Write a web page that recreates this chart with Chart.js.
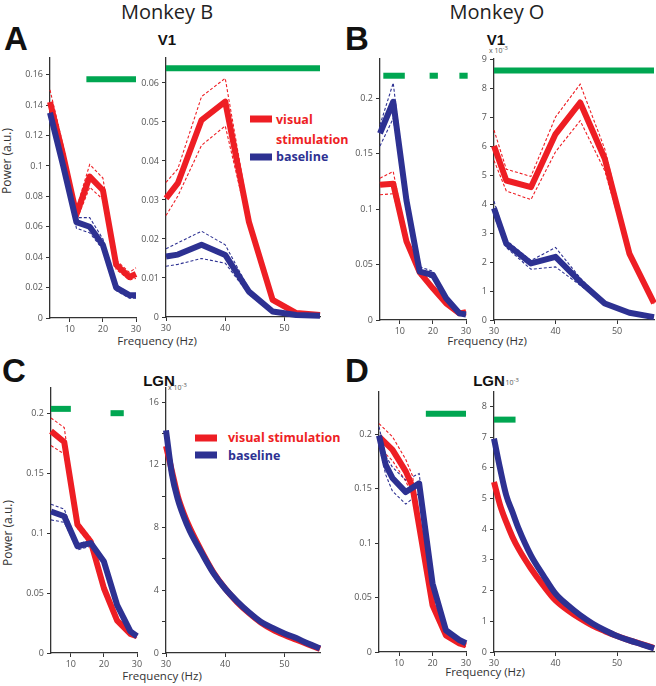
<!DOCTYPE html>
<html>
<head>
<meta charset="utf-8">
<script src="https://cdn.jsdelivr.net/npm/chart.js@4.4.1/dist/chart.umd.min.js"></script>
<style>
body { margin: 0; background: #fff; }
#fig { position: relative; width: 656px; height: 686px; overflow: hidden; font-family: 'Open Sans', sans-serif; color: #222; }
#fig canvas { position: absolute; }
.lb { position: absolute; white-space: nowrap; transform: translate(-50%, -50%); line-height: 1; }
.big { font-family: 'Liberation Sans', Arial, sans-serif; font-weight: bold; font-size: 33px; color: #111; }
.area { font-family: 'Liberation Sans', Arial, sans-serif; font-weight: bold; font-size: 15px; color: #111; }
.ax { font-size: 11.5px; color: #333; }
.lg { position: absolute; white-space: nowrap; transform: translateY(-50%); line-height: 1; font-weight: bold; font-size: 12.5px; }
.sw { position: absolute; width: 22px; height: 7px; transform: translateY(-50%); }
.exp { position: absolute; font-size: 7px; color: #555; white-space: nowrap; line-height: 1; }
</style>
</head>
<body>
<div id="fig">
  <div class="lb" style="left:167px;top:12px;font-size:20px;">Monkey B</div>
  <div class="lb" style="left:497px;top:12px;font-size:20px;">Monkey O</div>
  <div class="lb big" style="left:16px;top:38px;">A</div>
  <div class="lb big" style="left:357px;top:38px;">B</div>
  <div class="lb big" style="left:14px;top:370px;">C</div>
  <div class="lb big" style="left:357px;top:370px;">D</div>
  <div class="lb area" style="left:167px;top:39px;">V1</div>
  <div class="lb area" style="left:496px;top:39px;">V1</div>
  <div class="lb area" style="left:159px;top:380px;">LGN</div>
  <div class="lb area" style="left:489px;top:380px;">LGN</div>
  <div class="exp" style="left:489px;top:46px;">x 10<sup>-3</sup></div>
  <div class="exp" style="left:168px;top:383px;">x 10<sup>-3</sup></div>
  <div class="exp" style="left:500px;top:378px;">x 10<sup>-3</sup></div>
  <div class="lb ax" style="left:157px;top:341px;">Frequency (Hz)</div>
  <div class="lb ax" style="left:487px;top:341px;">Frequency (Hz)</div>
  <div class="lb ax" style="left:162px;top:676px;">Frequency (Hz)</div>
  <div class="lb ax" style="left:485px;top:672px;">Frequency (Hz)</div>
  <div class="lb ax" style="left:7px;top:161px;transform:translate(-50%,-50%) rotate(-90deg);font-size:12px;">Power (a.u.)</div>
  <div class="lb ax" style="left:8px;top:533px;transform:translate(-50%,-50%) rotate(-90deg);font-size:12px;">Power (a.u.)</div>

  <div class="sw" style="left:250px;top:119px;background:rgb(238,30,36);"></div>
  <div class="lg" style="left:276px;top:120px;color:rgb(238,30,36);">visual</div>
  <div class="lg" style="left:276px;top:140px;color:rgb(238,30,36);">stimulation</div>
  <div class="sw" style="left:250px;top:157px;background:rgb(45,49,146);"></div>
  <div class="lg" style="left:276px;top:157px;color:rgb(45,49,146);">baseline</div>

  <div class="sw" style="left:195px;top:438px;background:rgb(238,30,36);"></div>
  <div class="lg" style="left:228px;top:438px;color:rgb(238,30,36);">visual stimulation</div>
  <div class="sw" style="left:195px;top:455px;background:rgb(45,49,146);"></div>
  <div class="lg" style="left:228px;top:456px;color:rgb(45,49,146);">baseline</div>
</div>
<script>
// frequency grids (Hz)
const lowFreq = [4, 8, 12, 16, 20, 24, 28, 30];
const highFreq = [30, 32, 36, 40, 44, 48, 52, 56];
const denseFreq = [30, 31, 32, 33, 34, 36, 38, 40, 42, 44, 46, 48, 50, 52, 54, 56];

// A - monkey B, V1
const aLowVis = [0.142, 0.107, 0.068, 0.093, 0.084, 0.035, 0.027, 0.029];
const aLowVisHi = [0.150, 0.113, 0.072, 0.101, 0.092, 0.038, 0.030, 0.033];
const aLowVisLo = [0.136, 0.102, 0.064, 0.086, 0.078, 0.032, 0.025, 0.026];
const aLowBase = [0.135, 0.100, 0.063, 0.060, 0.048, 0.020, 0.015, 0.015];
const aLowBaseHi = [0.138, 0.104, 0.066, 0.066, 0.052, 0.022, 0.016, 0.016];
const aLowBaseLo = [0.131, 0.096, 0.059, 0.056, 0.045, 0.018, 0.013, 0.013];
const aLowSig = [[15, 30, 0.157]];
const aHighVis = [0.0304, 0.0343, 0.0505, 0.0552, 0.0244, 0.0044, 0.001, 0.0005];
const aHighVisHi = [0.0345, 0.038, 0.0565, 0.0612, 0.026, 0.005, 0.0012, 0.0006];
const aHighVisLo = [0.026, 0.031, 0.044, 0.049, 0.023, 0.004, 0.0009, 0.0004];
const aHighBase = [0.0155, 0.016, 0.0185, 0.0159, 0.0065, 0.0014, 0.0005, 0.0003];
const aHighBaseHi = [0.0175, 0.019, 0.022, 0.0185, 0.0072, 0.0016, 0.0006, 0.0004];
const aHighBaseLo = [0.013, 0.0135, 0.015, 0.0138, 0.0058, 0.0012, 0.0004, 0.0002];
const aHighSig = [[30, 56, 0.0638]];

// B - monkey O, V1 (high band in x10^-3)
const bLowVis = [0.122, 0.123, 0.071, 0.043, 0.0286, 0.015, 0.006, 0.007];
const bLowVisHi = [0.128, 0.134, 0.074, 0.045, 0.030, 0.016, 0.007, 0.008];
const bLowVisLo = [0.113, 0.114, 0.068, 0.041, 0.027, 0.014, 0.005, 0.006];
const bLowBase = [0.1685, 0.197, 0.108, 0.0436, 0.0406, 0.0196, 0.006, 0.005];
const bLowBaseHi = [0.176, 0.214, 0.112, 0.048, 0.044, 0.021, 0.007, 0.006];
const bLowBaseLo = [0.157, 0.182, 0.104, 0.040, 0.038, 0.018, 0.005, 0.004];
const bLowSig = [[5, 11.5, 0.2205], [19, 21.5, 0.2205], [28, 30.5, 0.2205]];
const bHighVis = [6.0, 4.81, 4.58, 6.41, 7.5, 5.56, 2.29, 0.58];
const bHighVisHi = [6.55, 5.2, 4.95, 7.0, 8.13, 5.9, 2.4, 0.62];
const bHighVisLo = [5.5, 4.45, 4.15, 5.8, 6.87, 5.15, 2.2, 0.55];
const bHighBase = [3.85, 2.63, 1.95, 2.18, 1.32, 0.57, 0.25, 0.1];
const bHighBaseHi = [4.1, 2.75, 2.05, 2.5, 1.45, 0.6, 0.27, 0.11];
const bHighBaseLo = [3.6, 2.5, 1.75, 1.83, 1.2, 0.53, 0.23, 0.09];
const bHighSig = [[30, 56, 8.6]];

// C - monkey B, LGN
const cLowVis = [0.185, 0.176, 0.107, 0.093, 0.054, 0.027, 0.016, 0.014];
const cLowVisHi = [0.196, 0.188, 0.110, 0.096, 0.056, 0.028, 0.017, 0.015];
const cLowVisLo = [0.173, 0.166, 0.104, 0.090, 0.052, 0.026, 0.015, 0.013];
const cLowBase = [0.118, 0.114, 0.089, 0.0917, 0.0763, 0.040, 0.018, 0.014];
const cLowBaseHi = [0.124, 0.120, 0.091, 0.094, 0.078, 0.041, 0.019, 0.015];
const cLowBaseLo = [0.111, 0.109, 0.086, 0.089, 0.074, 0.039, 0.017, 0.013];
const cLowSig = [[4, 10, 0.2036], [22, 26, 0.200]];
const cHighVis = [13.2, 11.6, 10.0, 8.9, 8.0, 6.5, 5.15, 4.1, 3.25, 2.55, 1.95, 1.5, 1.15, 0.85, 0.55, 0.25];
const cHighBase = [14.2, 11.4, 9.8, 8.7, 7.8, 6.4, 5.1, 4.1, 3.3, 2.6, 2.0, 1.6, 1.25, 0.95, 0.6, 0.3];

// D - monkey O, LGN
const dLowVisFreq = [4, 8, 12, 14, 20, 24, 28, 30];
const dLowVis = [0.198, 0.186, 0.166, 0.152, 0.043, 0.0153, 0.008, 0.006];
const dLowVisHi = [0.21, 0.198, 0.177, 0.162, 0.045, 0.016, 0.009, 0.007];
const dLowVisLo = [0.188, 0.176, 0.157, 0.144, 0.041, 0.0145, 0.007, 0.005];
const dLowBaseFreq = [4, 6, 8, 12, 16, 20, 24, 28, 30];
const dLowBase = [0.199, 0.172, 0.16, 0.147, 0.155, 0.063, 0.02, 0.011, 0.008];
const dLowBaseHi = [0.207, 0.18, 0.17, 0.158, 0.164, 0.066, 0.021, 0.012, 0.009];
const dLowBaseLo = [0.19, 0.163, 0.148, 0.136, 0.146, 0.06, 0.019, 0.010, 0.007];
const dLowSig = [[18, 30, 0.219]];
const dHighVis = [5.54, 4.78, 4.23, 3.75, 3.36, 2.72, 2.17, 1.68, 1.36, 1.09, 0.86, 0.68, 0.52, 0.38, 0.26, 0.13];
const dHighBase = [6.95, 5.97, 5.1, 4.56, 4.02, 3.15, 2.5, 1.9, 1.52, 1.2, 0.93, 0.71, 0.52, 0.38, 0.25, 0.12];
const dHighSig = [[30, 33.5, 7.57]];

const RED = 'rgb(238,30,36)', BLUE = 'rgb(45,49,146)', GREEN = 'rgb(0,166,81)';
const YW = 40, XH = 24, PT = 10, PR = 12;

function pts(freq, vals) {
  return freq.map((f, i) => ({x: f, y: vals[i]}));
}
function thick(freq, vals, color, smooth) {
  return {data: pts(freq, vals), borderColor: color, borderWidth: 6, pointRadius: 0, clip: false,
    tension: 0, cubicInterpolationMode: smooth ? 'monotone' : 'default', borderJoinStyle: 'round'};
}
function dashed(freq, vals, color) {
  return {data: pts(freq, vals), borderColor: color, borderWidth: 1.1, borderDash: [3, 2],
    pointRadius: 0, clip: false, tension: 0};
}
function sig(bars) {
  return bars.map(b => ({data: [{x: b[0], y: b[2]}, {x: b[1], y: b[2]}], borderColor: GREEN,
    borderWidth: 6, borderCapStyle: 'butt', pointRadius: 0, clip: false}));
}
function fmt(v) { return String(+v.toFixed(4)); }

function plot(box, xr, ymax, ystep, datasets, ylab) {
  const c = document.createElement('canvas');
  c.width = box.w + YW + PR;
  c.height = box.h + PT + XH;
  c.style.left = (box.l - YW) + 'px';
  c.style.top = (box.t - PT) + 'px';
  document.getElementById('fig').appendChild(c);
  const tickFont = {family: "'Open Sans', sans-serif", size: 9};
  new Chart(c, {
    type: 'line',
    data: {datasets: datasets},
    options: {
      responsive: false,
      animation: false,
      layout: {padding: {top: PT, right: PR, left: 0, bottom: 0}},
      plugins: {legend: {display: false}, tooltip: {enabled: false}},
      scales: {
        x: {
          type: 'linear', min: xr[0], max: xr[1],
          ticks: {stepSize: 10, includeBounds: false, maxRotation: 0, color: '#555', font: tickFont, padding: 2},
          grid: {drawOnChartArea: false, tickLength: 4, color: '#333'},
          border: {color: '#333', width: 1.3},
          afterFit: s => { s.height = XH; }
        },
        y: {
          type: 'linear', min: 0, max: ymax,
          ticks: {stepSize: ystep, includeBounds: false, color: '#555', font: tickFont, padding: 3,
            callback: ylab || fmt},
          grid: {drawOnChartArea: false, tickLength: 4, color: '#333'},
          border: {color: '#333', width: 1.3},
          afterFit: s => { s.width = YW; }
        }
      }
    }
  });
}

// panel A
plot({l: 50, t: 58, w: 86.5, h: 260}, [4, 30], 0.171, 0.02, [
  thick(lowFreq, aLowBase, BLUE), thick(lowFreq, aLowVis, RED),
  dashed(lowFreq, aLowBaseHi, BLUE), dashed(lowFreq, aLowBaseLo, BLUE),
  dashed(lowFreq, aLowVisHi, RED), dashed(lowFreq, aLowVisLo, RED)
].concat(sig(aLowSig)));
plot({l: 166, t: 58, w: 154, h: 259}, [30, 56], 0.0664, 0.01, [
  thick(highFreq, aHighBase, BLUE), thick(highFreq, aHighVis, RED),
  dashed(highFreq, aHighBaseHi, BLUE), dashed(highFreq, aHighBaseLo, BLUE),
  dashed(highFreq, aHighVisHi, RED), dashed(highFreq, aHighVisLo, RED)
].concat(sig(aHighSig)));

// panel B
plot({l: 380, t: 59, w: 86.5, h: 261}, [4, 30], 0.2356, 0.05, [
  thick(lowFreq, bLowBase, BLUE), thick(lowFreq, bLowVis, RED),
  dashed(lowFreq, bLowBaseHi, BLUE), dashed(lowFreq, bLowBaseLo, BLUE),
  dashed(lowFreq, bLowVisHi, RED), dashed(lowFreq, bLowVisLo, RED)
].concat(sig(bLowSig)));
plot({l: 494, t: 59, w: 160, h: 261}, [30, 56], 9, 1, [
  thick(highFreq, bHighBase, BLUE), thick(highFreq, bHighVis, RED),
  dashed(highFreq, bHighBaseHi, BLUE), dashed(highFreq, bHighBaseLo, BLUE),
  dashed(highFreq, bHighVisHi, RED), dashed(highFreq, bHighVisLo, RED)
].concat(sig(bHighSig)));

// panel C
plot({l: 51, t: 388, w: 86, h: 265}, [4, 30], 0.221, 0.05, [
  thick(lowFreq, cLowBase, BLUE), thick(lowFreq, cLowVis, RED),
  dashed(lowFreq, cLowBaseHi, BLUE), dashed(lowFreq, cLowBaseLo, BLUE),
  dashed(lowFreq, cLowVisHi, RED), dashed(lowFreq, cLowVisLo, RED)
].concat(sig(cLowSig)));
plot({l: 166, t: 388, w: 154, h: 265}, [30, 56], 16.9, 2, [
  thick(denseFreq, cHighBase, BLUE, true), thick(denseFreq, cHighVis, RED, true)
], v => (v % 4 === 0 ? String(v) : ''));

// panel D
plot({l: 379, t: 392, w: 87, h: 260}, [4, 30], 0.239, 0.05, [
  thick(dLowBaseFreq, dLowBase, BLUE), thick(dLowVisFreq, dLowVis, RED),
  dashed(dLowBaseFreq, dLowBaseHi, BLUE), dashed(dLowBaseFreq, dLowBaseLo, BLUE),
  dashed(dLowVisFreq, dLowVisHi, RED), dashed(dLowVisFreq, dLowVisLo, RED)
].concat(sig(dLowSig)));
plot({l: 494, t: 392, w: 160, h: 260}, [30, 56], 8.47, 1, [
  thick(denseFreq, dHighBase, BLUE, true), thick(denseFreq, dHighVis, RED, true)
].concat(sig(dHighSig)));
</script>
</body>
</html>
